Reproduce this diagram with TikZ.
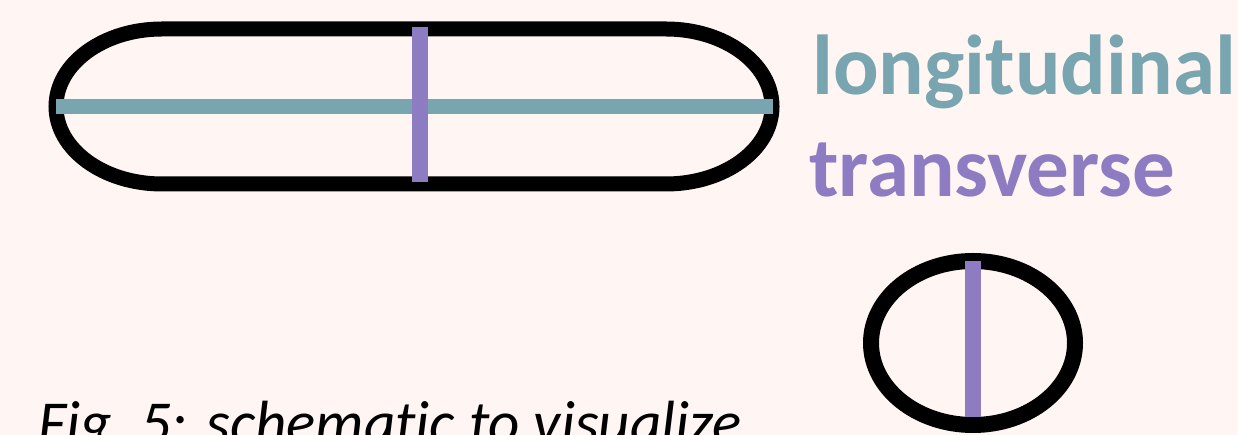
\documentclass[tikz,border=0pt]{standalone}
\usepackage{fontspec}
\setmainfont{Carlito}[Ligatures=NoCommon]
\definecolor{bgc}{HTML}{FFF6F4}
\definecolor{teal}{HTML}{78A5AF}
\definecolor{purp}{HTML}{8E7CC3}
\tikzset{
  outline/.style={draw=black,line width=15pt},
  longline/.style={draw=teal,line width=15pt,line cap=butt},
  transline/.style={draw=purp,line width=16pt,line cap=butt},
  label/.style={inner sep=0pt,anchor=base west,font=\fontsize{85}{90}\selectfont\bfseries}
}
\begin{document}
\begin{tikzpicture}[x=1pt,y=1pt]
\clip (0,0) rectangle (1238,435);
\fill[bgc] (0,0) rectangle (1238,435);
% capsule
\draw[outline] (162,406) -- (666,406)
  arc[start angle=90,end angle=-90,x radius=106,y radius=77.5]
  -- (162,251)
  arc[start angle=270,end angle=90,x radius=106,y radius=77.5] -- cycle;
\coordinate (L1) at (56,328.5);
\coordinate (L2) at (773,328.5);
\draw[longline] (L1) -- (L2);
\coordinate (T1) at (420,408);
\coordinate (T2) at (420,253);
\draw[transline] (T1) -- (T2);
% circle
\draw[outline,line width=16pt] (973,92) ellipse[x radius=102,y radius=82];
\coordinate (C1) at (973,174);
\coordinate (C2) at (973,18);
\draw[transline] (C1) -- (C2);
% labels
\node[label,text=teal] (lon) at (812,340) {longitudinal};
\node[label,text=purp] (tra) at (809,238) {transverse};
\node[inner sep=0pt,anchor=base west,font=\fontsize{61}{66}\selectfont\itshape] (cap) at (38,-9) {Fig.~5: schematic to visualize};
\end{tikzpicture}
\end{document}
